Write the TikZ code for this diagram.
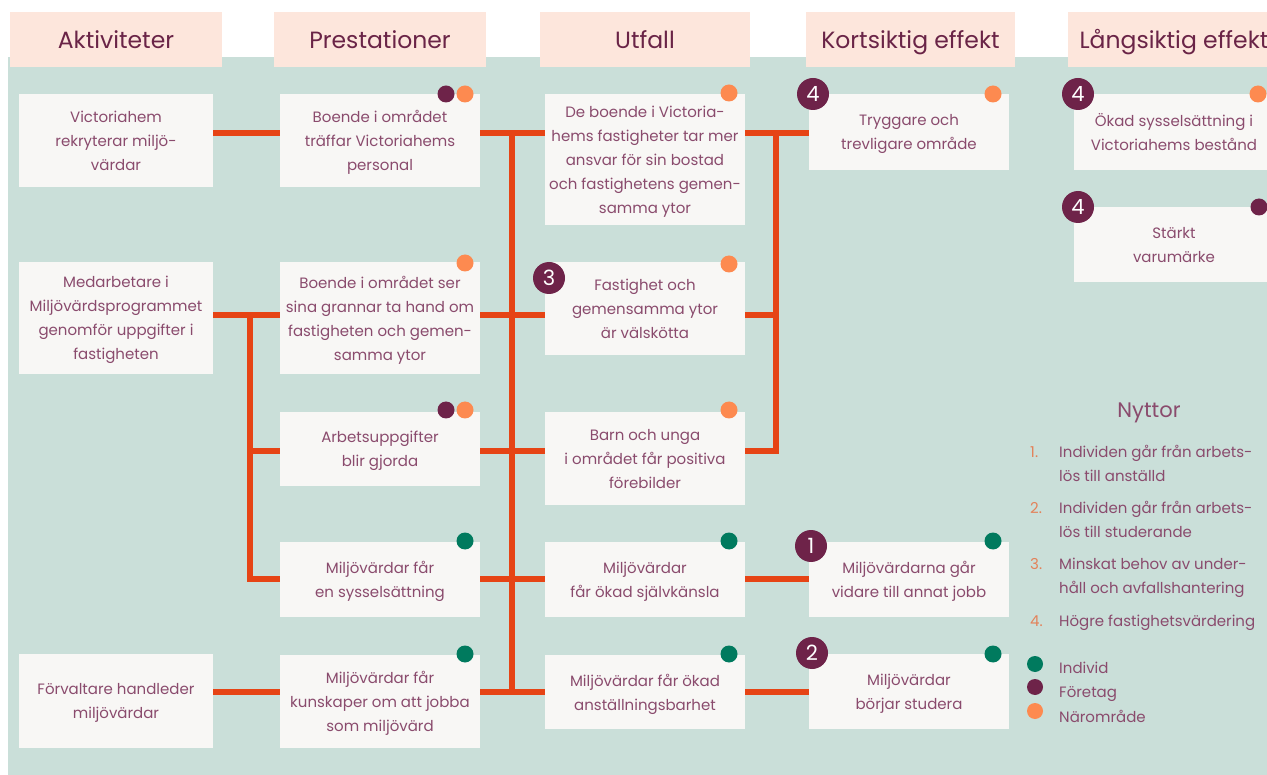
\documentclass[tikz,border=0pt]{standalone}
\usepackage{fontspec}
\setmainfont{Poppins}
\usepackage{tikz}

\definecolor{mint}{HTML}{CADFD9}
\definecolor{peach}{HTML}{FDE6DC}
\definecolor{boxfill}{HTML}{F8F7F5}
\definecolor{linkred}{HTML}{E64415}
\definecolor{plum}{HTML}{6E2349}
\definecolor{txtplum}{HTML}{8A4B6D}
\definecolor{headplum}{HTML}{6A2447}
\definecolor{dotorange}{HTML}{FD8A50}
\definecolor{dotteal}{HTML}{007A5E}
\definecolor{numorange}{HTML}{E3825A}

\tikzset{
  head/.style={fill=peach, text=headplum, minimum height=55pt, inner sep=0pt,
    text height=19pt, text depth=0pt, font=\fontsize{23.5}{23.5}\selectfont},
  box/.style={fill=boxfill, text=txtplum, align=center, inner sep=0pt,
    text depth=-2pt, font=\fontsize{15}{24}\selectfont},
  colA/.style={box, minimum width=194pt},
  colB/.style={box, minimum width=200pt},
  link/.style={draw=linkred, line width=5.5pt},
  dot/.style={circle, inner sep=0pt, minimum size=17pt},
  badge/.style={circle, fill=plum, text=white, inner sep=0pt, minimum size=32pt,
    font=\fontsize{21}{21}\selectfont},
  legtxt/.style={text=txtplum, align=left, inner sep=0pt, font=\fontsize{15}{24}\selectfont},
  legnum/.style={text=numorange, inner sep=0pt, font=\fontsize{15}{24}\selectfont},
}

\begin{document}
\begin{tikzpicture}[x=1pt, y=-1pt]

\useasboundingbox (0,0) rectangle (1267,775);
\clip (0,0) rectangle (1267,775);
\fill[mint] (8,57) rectangle (1267,775);

% column heads
\node[head, minimum width=212pt] (h1) at (116,39.5) {Aktiviteter};
\node[head, minimum width=212pt] (h2) at (380,39.5) {Prestationer};
\node[head, minimum width=210pt] (h3) at (645,39.5) {Utfall};
\node[head, minimum width=209pt] (h4) at (910.5,39.5) {Kortsiktig effekt};
\node[head, minimum width=212pt] (h5) at (1174,39.5) {Långsiktig effekt};

% aktiviteter
\node[colA, minimum height=93pt] (a1) at (116,140.5) {Victoriahem\\rekryterar miljö-\\värdar};
\node[colA, minimum height=112pt] (a2) at (116,318) {Medarbetare i\\Miljövärdsprogrammet\\genomför uppgifter i\\fastigheten};
\node[colA, minimum height=94pt] (a3) at (116,701) {Förvaltare handleder\\miljövärdar};

% prestationer
\node[colB, minimum height=93pt] (p1) at (380,140.5) {Boende i området\\träffar Victoriahems\\personal};
\node[colB, minimum height=112pt] (p2) at (380,318) {Boende i området ser\\sina grannar ta hand om\\fastigheten och gemen-\\samma ytor};
\node[colB, minimum height=74pt] (p3) at (380,449) {Arbetsuppgifter\\blir gjorda};
\node[colB, minimum height=75pt] (p4) at (380,579.5) {Miljövärdar får\\en sysselsättning};
\node[colB, minimum height=93pt] (p5) at (380,701.5) {Miljövärdar får\\kunskaper om att jobba\\som miljövärd};

% utfall
\node[colB, minimum height=131pt] (u1) at (645,159.5) {De boende i Victoria-\\hems fastigheter tar mer\\ansvar för sin bostad\\och fastighetens gemen-\\samma ytor};
\node[colB, minimum height=93pt] (u2) at (645,308.5) {Fastighet och\\gemensamma ytor\\är välskötta};
\node[colB, minimum height=93pt] (u3) at (645,458.5) {Barn och unga\\i området får positiva\\förebilder};
\node[colB, minimum height=75pt] (u4) at (645,579.5) {Miljövärdar\\får ökad självkänsla};
\node[colB, minimum height=74pt] (u5) at (645,692) {Miljövärdar får ökad\\anställningsbarhet};

% kortsiktig effekt
\node[colB, minimum height=76pt] (k1) at (909,132) {Tryggare och\\trevligare område};
\node[colB, minimum height=75pt] (k2) at (909,579.5) {Miljövärdarna går\\vidare till annat jobb};
\node[colB, minimum height=75pt] (k3) at (909,691.5) {Miljövärdar\\börjar studera};

% langsiktig effekt
\node[colB, minimum height=76pt] (l1) at (1174,132) {Ökad sysselsättning i\\Victoriahems bestånd};
\node[colB, minimum height=75pt] (l2) at (1174,244.5) {Stärkt\\varumärke};

% rows and buses
\coordinate (r1) at (0,133);
\coordinate (r2) at (0,315);
\coordinate (r3) at (0,451);
\coordinate (r4) at (0,579);
\coordinate (r5) at (0,692);
\coordinate (busL) at (250,0);
\coordinate (busM) at (512,0);
\coordinate (busR) at (776,0);

\draw[link] (a1.east |- r1) -- (p1.west |- r1);
\draw[link] (p1.east |- r1) -- (u1.west |- r1);
\draw[link] (u1.east |- r1) -- (k1.west |- r1);
\draw[link] (a2.east |- r2) -- (p2.west |- r2);
\draw[link] (busL |- r2) -- (busL |- r4) -- (p4.west |- r4);
\draw[link] (busL |- r3) -- (p3.west |- r3);
\draw[link] (a3.east |- r5) -- (p5.west |- r5);
\draw[link] (busM |- r1) -- (busM |- r5);
\draw[link] (p2.east |- r2) -- (u2.west |- r2);
\draw[link] (p3.east |- r3) -- (u3.west |- r3);
\draw[link] (p4.east |- r4) -- (u4.west |- r4);
\draw[link] (p5.east |- r5) -- (u5.west |- r5);
\draw[link] (u3.east |- r3) -- (busR |- r3) -- (busR |- r1);
\draw[link] (u2.east |- r2) -- (busR |- r2);
\draw[link] (u4.east |- r4) -- (k2.west |- r4);
\draw[link] (u5.east |- r5) -- (k3.west |- r5);

% dots
\node[dot, fill=plum] (p1f) at (446,94) {};
\node[dot, fill=dotorange] (p1n) at (465,94) {};
\node[dot, fill=dotorange] (p2n) at (465,263) {};
\node[dot, fill=plum] (p3f) at (446,410) {};
\node[dot, fill=dotorange] (p3n) at (465,410) {};
\node[dot, fill=dotteal] (p4i) at (465,541) {};
\node[dot, fill=dotteal] (p5i) at (465,654) {};
\node[dot, fill=dotorange] (u1n) at (729,93) {};
\node[dot, fill=dotorange] (u2n) at (729,264) {};
\node[dot, fill=dotorange] (u3n) at (729,410) {};
\node[dot, fill=dotteal] (u4i) at (729,541) {};
\node[dot, fill=dotteal] (u5i) at (729,654) {};
\node[dot, fill=dotorange] (k1n) at (993,94) {};
\node[dot, fill=dotteal] (k2i) at (993,541) {};
\node[dot, fill=dotteal] (k3i) at (993,654) {};
\node[dot, fill=dotorange] (l1n) at (1258,94) {};
\node[dot, fill=plum] (l2f) at (1259,207) {};

% badges
\node[badge] (u2b) at (549,278) {3};
\node[badge] (k1b) at (813,94) {4};
\node[badge] (k2b) at (811,546) {1};
\node[badge] (k3b) at (812,653) {2};
\node[badge] (l1b) at (1078,94) {4};
\node[badge] (l2b) at (1078,207) {4};

% nyttor
\node[text=txtplum, font=\fontsize{21}{21}\selectfont] (nyttor) at (1149,413) {Nyttor};
\node[legnum, anchor=base west] (n1) at (1030,457) {1.};
\node[legtxt, anchor=base west] (t1) at (1059,482) {Individen går från arbets-\\lös till anställd};
\node[legnum, anchor=base west] (n2) at (1030,513) {2.};
\node[legtxt, anchor=base west] (t2) at (1059,537) {Individen går från arbets-\\lös till studerande};
\node[legnum, anchor=base west] (n3) at (1030,569) {3.};
\node[legtxt, anchor=base west] (t3) at (1059,593) {Minskat behov av under-\\håll och avfallshantering};
\node[legnum, anchor=base west] (n4) at (1030,626) {4.};
\node[legtxt, anchor=base west] (t4) at (1059,626) {Högre fastighetsvärdering};

\node[dot, fill=dotteal, minimum size=16pt] (gi) at (1035,664) {};
\node[dot, fill=plum, minimum size=16pt] (gf) at (1035,687) {};
\node[dot, fill=dotorange, minimum size=16pt] (gn) at (1035,711) {};
\node[legtxt, anchor=base west] (ti) at (1059,673) {Individ};
\node[legtxt, anchor=base west] (tf) at (1059,697) {Företag};
\node[legtxt, anchor=base west] (tn) at (1059,722) {Närområde};

\end{tikzpicture}
\end{document}
